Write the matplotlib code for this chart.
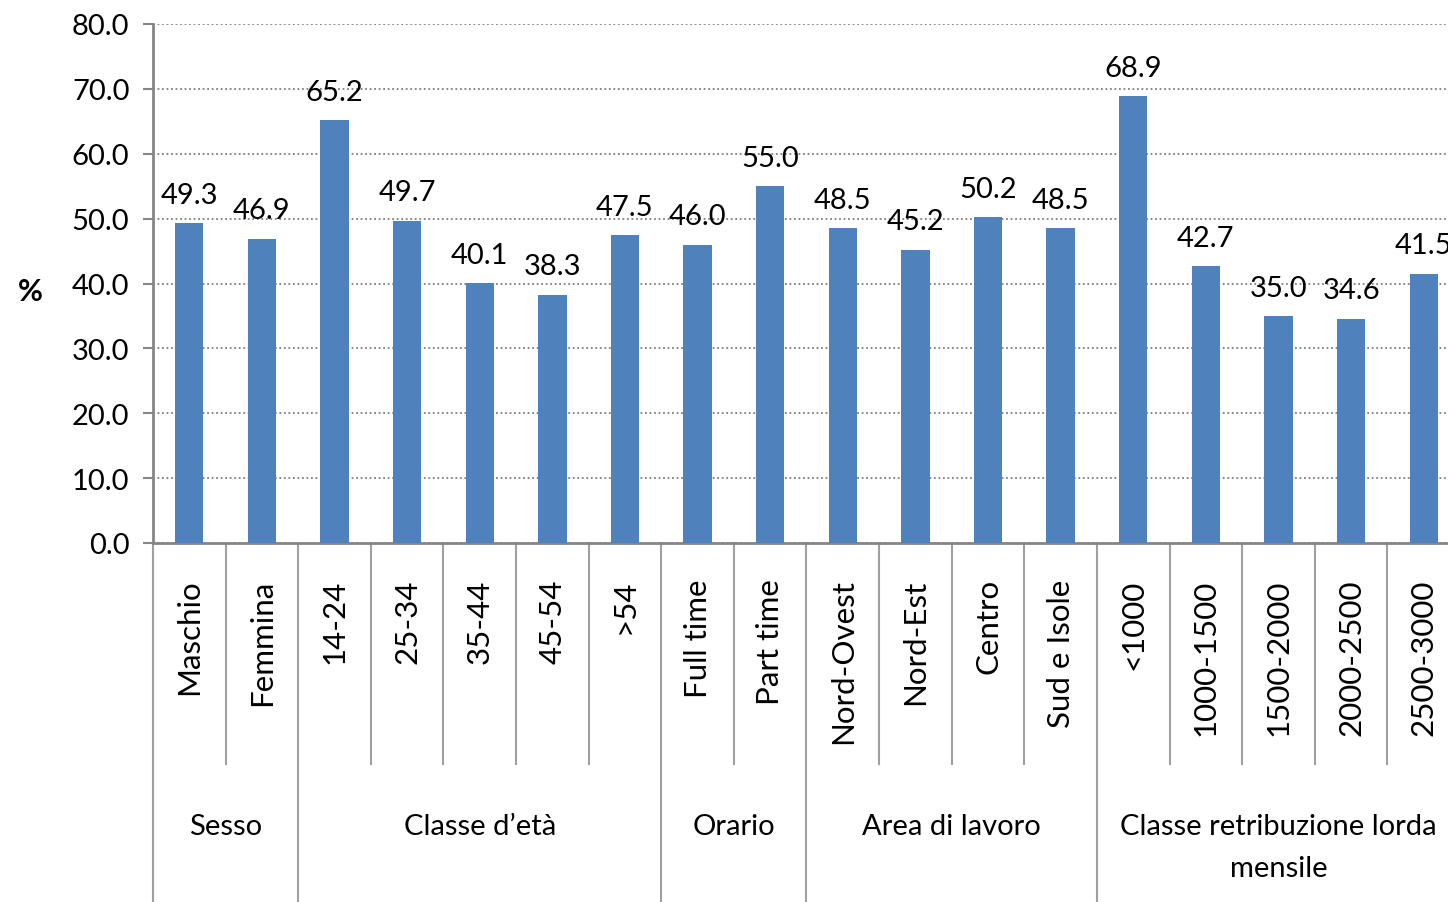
import matplotlib.pyplot as plt
from matplotlib.transforms import blended_transform_factory

plt.rcParams['font.family'] = ['Lato', 'DejaVu Sans']

categories = ["Maschio", "Femmina", "14-24", "25-34", "35-44", "45-54", ">54",
              "Full time", "Part time", "Nord-Ovest", "Nord-Est", "Centro",
              "Sud e Isole", "<1000", "1000-1500", "1500-2000", "2000-2500",
              "2500-3000"]
values = [49.3, 46.9, 65.2, 49.7, 40.1, 38.3, 47.5, 46.0, 55.0, 48.5, 45.2,
          50.2, 48.5, 68.9, 42.7, 35.0, 34.6, 41.5]
groups = ["Sesso", "Classe d\u2019et\u00e0", "Orario", "Area di lavoro",
          "Classe retribuzione lorda\nmensile"]
group_sizes = [2, 5, 2, 4, 5]

BAR = "#4F81BD"
GREY = "#868686"
FS = 21

fig = plt.figure(figsize=(14.48, 9.03), dpi=100)
ax = fig.add_axes([153 / 1448, 1 - 544 / 903, 1307 / 1448, 519 / 903])

x = list(range(len(categories)))
ax.bar(x, values, width=0.39, color=BAR, zorder=3)
for xi, v in zip(x, values):
    ax.annotate(f"{v:.1f}", (xi, v), xytext=(0, 11), textcoords="offset points",
                ha="center", va="bottom", fontsize=FS)

ax.set_xlim(-0.5, len(categories) - 0.5)
ax.set_ylim(0, 80)
ax.set_yticks(range(0, 81, 10))
ax.set_yticklabels([f"{t:.1f}" for t in range(0, 81, 10)], fontsize=FS)
ax.yaxis.grid(True, linestyle=(0, (1, 1.5)), color="#7F7F7F", linewidth=1.3, zorder=0)
ax.tick_params(axis="y", length=7, width=1.5, color=GREY, pad=10)
ax.set_xticks([])

for s in ["top", "right"]:
    ax.spines[s].set_visible(False)
for s in ["left", "bottom"]:
    ax.spines[s].set_color(GREY)
    ax.spines[s].set_linewidth(2)

trans = blended_transform_factory(ax.transData, ax.transAxes)

# category labels (rotated)
for xi, lab in zip(x, categories):
    ax.text(xi, -0.068, lab, rotation=90, ha="center", va="top",
            fontsize=22.5, transform=trans)

# separator lines under the axis
boundaries = [0]
for g in group_sizes:
    boundaries.append(boundaries[-1] + g)
for i in range(len(categories) + 1):
    bottom = -0.692 if i in boundaries else -0.426
    ax.plot([i - 0.5, i - 0.5], [0, bottom], color="#A0A0A0", lw=1.5,
            transform=trans, clip_on=False)

# group labels
for gi, name in enumerate(groups):
    mid = (boundaries[gi] + boundaries[gi + 1]) / 2 - 0.5
    ax.text(mid, -0.52, name, ha="center", va="top", fontsize=FS,
            linespacing=1.75, transform=trans)

fig.text(30 / 1448, 1 - 292 / 903, "%", fontsize=22, fontweight="bold",
         ha="center", va="center")

fig.savefig("out.png", dpi=100)
